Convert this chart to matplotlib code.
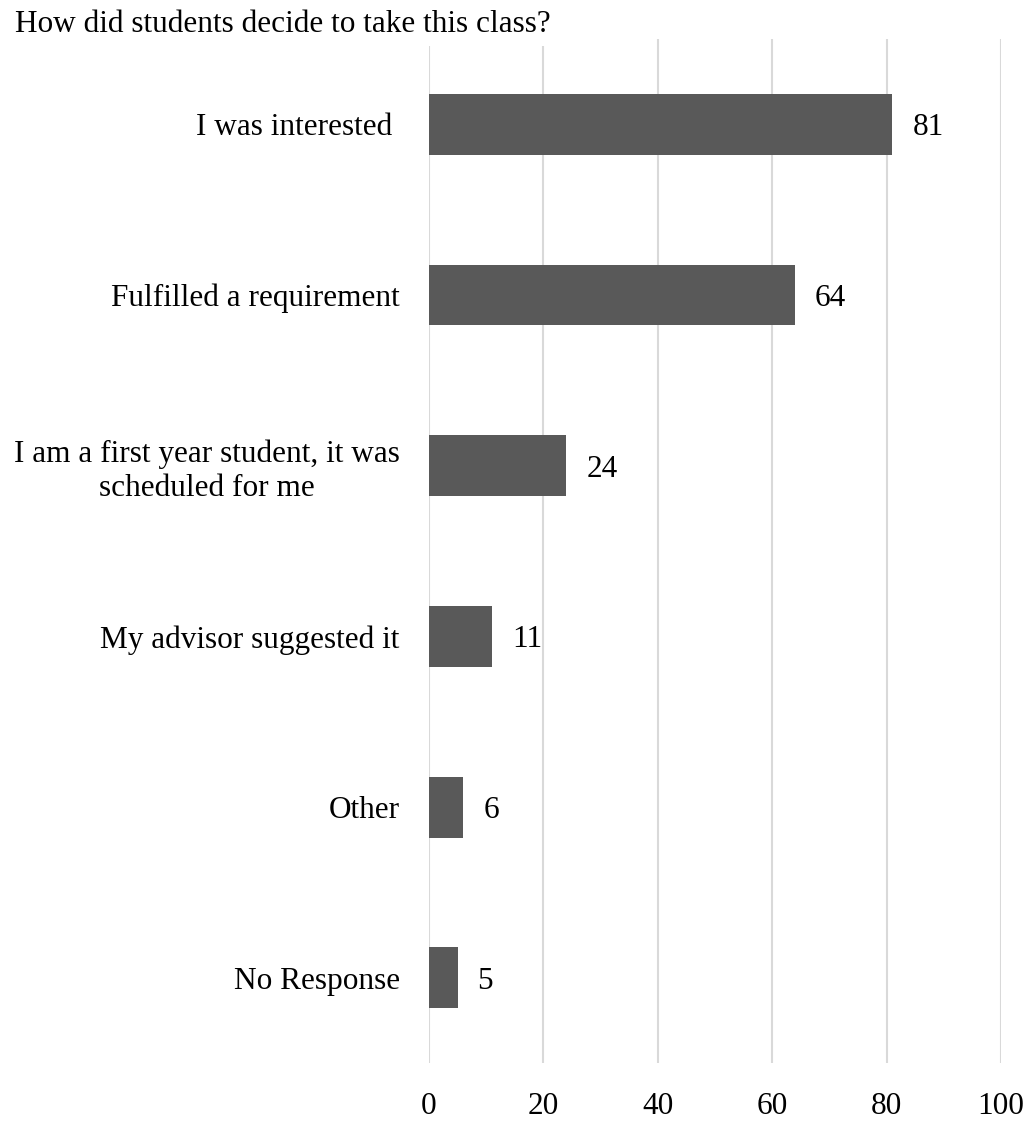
import numpy as np
import matplotlib.pyplot as plt
from matplotlib.patches import Rectangle

plt.rcParams['font.family'] = ['Liberation Serif', 'DejaVu Serif']

categories = [
    'I was interested ',
    'Fulfilled a requirement',
    'I am a first year student, it was\nscheduled for me',
    'My advisor suggested it',
    'Other',
    'No Response',
]
counts = [81, 64, 24, 11, 6, 5]
xticks = [0, 20, 40, 60, 80, 100]
title = 'How did students decide to take this class?'

fig = plt.figure(figsize=(10.33, 11.21), dpi=100)
ax = fig.add_axes([0.4153, 0.0517, 0.5537, 0.9135])

y = np.arange(len(categories))
ax.barh(y, counts, height=0.357, color='#595959', zorder=3)

for yi, v in zip(y, counts):
    ax.annotate(str(v), xy=(v, yi), xytext=(14.4, 0), textcoords='offset points',
                ha='left', va='center_baseline', fontsize=22.5, color='black')

ax.set_xlim(0, 100)
ax.set_ylim(len(categories) - 0.5, -0.5)
ax.set_xticks(xticks)
ax.set_yticks(y)
ax.set_yticklabels(categories, multialignment='center')
ax.grid(axis='x', color='#d9d9d9', linewidth=1.5, zorder=0)
ax.set_axisbelow(True)
ax.tick_params(axis='both', length=0, labelsize=22.5, colors='black')
ax.tick_params(axis='x', pad=21)
ax.tick_params(axis='y', pad=21)
for s in ax.spines.values():
    s.set_visible(False)

# white box behind the title hides the top of the gridlines
fig.patches.append(Rectangle((0, 1 - 46 / 1121), 600 / 1033, 46 / 1121,
                             transform=fig.transFigure, facecolor='white',
                             edgecolor='none', zorder=2))
fig.text(15 / 1033, 1 - 25 / 1121, title, ha='left', va='center',
         fontsize=22.5, color='black', zorder=4)

fig.savefig('out.png', dpi=100)
